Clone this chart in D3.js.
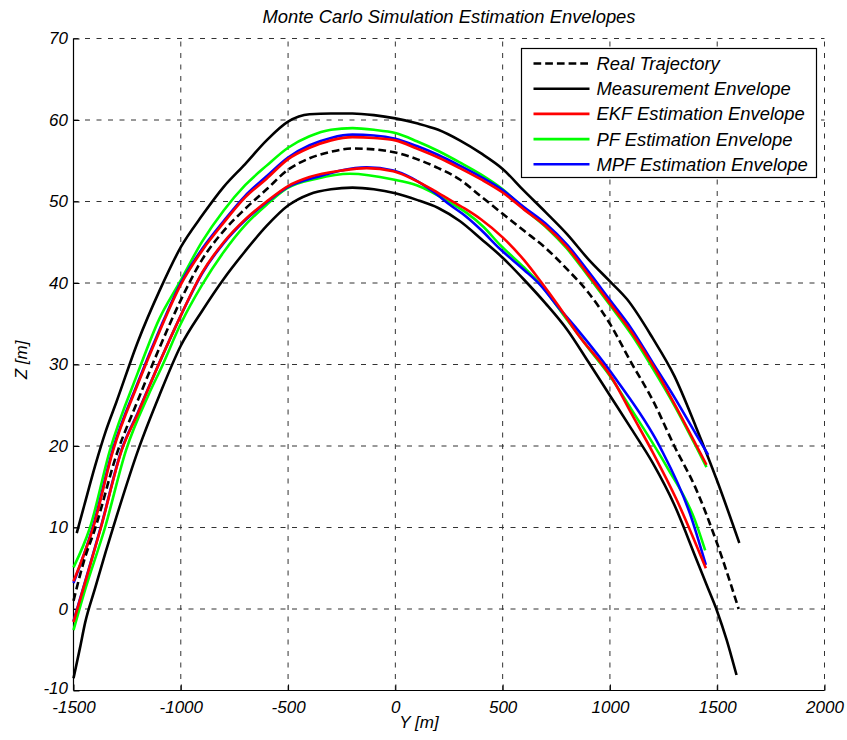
<!DOCTYPE html>
<html>
<head>
<meta charset="utf-8">
<script src="https://cdn.jsdelivr.net/npm/d3@7"></script>
<style>
  html, body { margin: 0; padding: 0; background: #fff; }
  svg { display: block; }
  text { font-family: "Liberation Sans", Arial, Helvetica, sans-serif; font-style: italic; fill: #000; }
</style>
</head>
<body>
<svg id="chart" width="847" height="740"></svg>
<script>
// Tick values
const xTicks = [-1500, -1000, -500, 0, 500, 1000, 1500, 2000];
const yTicks = [-10, 0, 10, 20, 30, 40, 50, 60, 70];

// Series as [Y position, Z altitude] pairs
const realTrajectory = [[-1500,1.0],[-1450,6.0],[-1400,9.8],[-1300,18.9],[-1200,25.6],[-1100,32.0],[-1000,37.9],[-900,42.9],[-800,46.4],[-700,49.1],[-600,51.5],[-500,53.9],[-400,55.3],[-300,56.1],[-200,56.5],[-100,56.4],[0,56.0],[100,55.2],[200,54.1],[300,52.7],[400,50.6],[500,48.5],[600,46.4],[700,44.3],[800,41.7],[900,38.8],[1000,35.0],[1100,30.2],[1200,25.6],[1300,20.0],[1400,14.8],[1500,8.0],[1600,0.0]];

const measurementUpper = [[-1485,9.3],[-1450,12.7],[-1400,17.5],[-1350,21.8],[-1300,25.4],[-1200,32.8],[-1100,39.0],[-1000,44.4],[-900,48.3],[-800,51.8],[-700,54.6],[-600,57.5],[-500,59.8],[-400,60.7],[-300,60.8],[-200,60.8],[-100,60.6],[0,60.2],[100,59.6],[200,58.8],[300,57.5],[400,55.9],[500,54.0],[600,51.3],[700,48.7],[800,46.0],[900,42.9],[1000,40.2],[1080,38.0],[1200,33.2],[1300,28.6],[1400,22.4],[1500,15.7],[1603,8.1]];
const measurementLower = [[-1500,-8.5],[-1470,-4.8],[-1446,-1.7],[-1400,2.5],[-1350,7.0],[-1300,11.3],[-1200,19.4],[-1100,26.2],[-1000,32.3],[-900,36.6],[-800,40.5],[-700,43.9],[-600,47.0],[-500,49.5],[-400,50.9],[-300,51.5],[-200,51.7],[-100,51.5],[0,51.0],[100,50.2],[200,49.2],[300,47.6],[400,45.4],[500,43.1],[600,40.4],[700,37.5],[800,34.3],[900,30.3],[1000,26.2],[1100,22.1],[1200,17.9],[1300,12.8],[1400,6.3],[1450,3.0],[1500,-0.3],[1544,-3.8],[1567,-5.9],[1590,-8.1]];

const ekfUpper = [[-1500,3.4],[-1408,10.0],[-1315,19.5],[-1200,27.6],[-1100,34.0],[-1000,39.8],[-900,44.0],[-800,47.4],[-700,50.5],[-600,52.8],[-500,55.2],[-400,56.6],[-300,57.5],[-200,57.9],[-100,57.8],[0,57.5],[100,56.5],[200,55.4],[300,54.1],[400,52.7],[500,51.1],[600,49.0],[700,47.0],[800,44.4],[900,41.0],[1000,37.5],[1100,34.0],[1200,29.9],[1300,25.2],[1400,20.2],[1450,17.7]];
const ekfLower = [[-1500,-1.6],[-1450,2.9],[-1372,10.0],[-1275,19.5],[-1200,24.0],[-1100,30.2],[-1000,36.0],[-900,41.3],[-800,45.0],[-700,47.8],[-600,50.0],[-500,51.9],[-400,53.0],[-250,53.8],[-134,54.1],[-10,53.7],[100,52.5],[177,51.4],[254,50.2],[332,49.0],[400,47.8],[500,45.6],[600,42.8],[674,40.3],[760,37.2],[845,33.9],[1015,28.1],[1100,24.0],[1202,19.1],[1311,13.4],[1447,5.0]];

const pfUpper = [[-1500,5.1],[-1423,10.0],[-1330,19.5],[-1200,29.0],[-1100,35.6],[-1007,40.0],[-900,45.1],[-800,48.9],[-700,52.0],[-600,54.4],[-500,56.6],[-400,58.0],[-300,58.8],[-200,59.0],[-100,58.8],[0,58.4],[100,57.4],[200,56.2],[300,54.8],[400,53.3],[500,51.5],[600,49.1],[700,46.9],[800,44.2],[900,40.8],[1000,37.3],[1100,33.7],[1200,29.5],[1300,25.0],[1400,20.0],[1450,17.4]];
const pfLower = [[-1500,-2.6],[-1450,2.0],[-1353,10.0],[-1255,19.5],[-1150,26.3],[-1089,29.7],[-1000,35.0],[-900,39.8],[-800,43.8],[-700,47.1],[-600,49.6],[-506,51.6],[-367,52.8],[-212,53.4],[-10,52.7],[99,52.0],[254,49.9],[332,48.6],[410,46.9],[487,44.7],[600,41.9],[674,39.9],[800,35.5],[900,32.0],[1000,28.6],[1100,24.5],[1264,17.5],[1396,10.9],[1444,7.2]];

const mpfUpper = [[-1500,3.2],[-1408,10.2],[-1315,19.7],[-1200,27.8],[-1100,34.2],[-1000,40.0],[-900,44.2],[-800,47.6],[-700,50.7],[-600,53.1],[-500,55.4],[-400,56.9],[-300,57.8],[-200,58.2],[-100,58.1],[0,57.7],[100,56.8],[200,55.7],[300,54.4],[400,53.0],[500,51.4],[600,49.3],[700,47.3],[800,44.7],[900,41.4],[1000,37.9],[1100,34.4],[1200,30.2],[1300,26.0],[1400,21.5],[1458,18.9]];
const mpfLower = [[-1500,-1.5],[-1450,3.0],[-1372,10.1],[-1275,19.6],[-1200,24.1],[-1100,30.2],[-1000,36.0],[-900,41.2],[-800,44.9],[-700,47.7],[-600,49.9],[-500,51.8],[-367,53.0],[-134,54.2],[-10,53.8],[177,51.2],[254,49.6],[332,48.1],[400,46.5],[487,44.2],[600,41.6],[674,39.8],[760,37.0],[845,34.4],[1031,28.1],[1233,19.9],[1373,11.7],[1447,5.4]];

// Legend entries
const legendLabels = ["Real Trajectory", "Measurement Envelope", "EKF Estimation Envelope", "PF Estimation Envelope", "MPF Estimation Envelope"];
const legendColors = ["#000000", "#000000", "#ff0000", "#00ff00", "#0000ff"];
const legendDashed = [true, false, false, false, false];

const svg = d3.select("#chart");
const plot = { left: 73.5, right: 824.5, top: 38.5, bottom: 690.5 };

const x = d3.scaleLinear().domain([-1500, 2000]).range([plot.left, plot.right]);
const y = d3.scaleLinear().domain([-10, 70]).range([plot.bottom, plot.top]);

// Dashed grid
const grid = svg.append("g").attr("stroke", "#333").attr("stroke-width", 1)
  .attr("stroke-dasharray", "5,6.5").attr("fill", "none");
grid.selectAll("line.gx").data(xTicks.slice(1)).join("line")
  .attr("x1", d => x(d)).attr("x2", d => x(d))
  .attr("y1", plot.bottom).attr("y2", plot.top);
grid.selectAll("line.gy").data(yTicks.slice(1)).join("line")
  .attr("x1", plot.left).attr("x2", plot.right)
  .attr("y1", d => y(d)).attr("y2", d => y(d));

// Axes with inward ticks, plain hyphen minus signs
const fmt = d => String(d);
const xAxis = d3.axisBottom(x).tickValues(xTicks).tickSize(-6).tickPadding(10.5).tickFormat(fmt);
const yAxis = d3.axisLeft(y).tickValues(yTicks).tickSize(-6).tickPadding(5.5).tickFormat(fmt);

const gx = svg.append("g").attr("transform", `translate(0,${plot.bottom})`).call(xAxis);
const gy = svg.append("g").attr("transform", `translate(${plot.left},0)`).call(yAxis);
[gx, gy].forEach(g => {
  g.select(".domain").attr("stroke", "#000").attr("stroke-width", 1.2);
  g.selectAll(".tick line").attr("stroke", "#000").attr("stroke-width", 1);
  g.selectAll(".tick text").attr("font-size", 17).attr("font-style", "italic")
    .attr("font-family", "'Liberation Sans', Arial, sans-serif").attr("fill", "#000");
});
// lowest Z label sits a little higher so it clears the corner Y label
gy.selectAll(".tick text").filter(d => d === -10).attr("y", -2.2);
gy.select(".domain").attr("d", `M0,${plot.bottom}V${plot.top}`);
gx.select(".domain").attr("d", `M${plot.left},0H${plot.right}`);

// Curves
const line = d3.line().x(d => x(d[0])).y(d => y(d[1])).curve(d3.curveMonotoneX);
const series = [
  { data: measurementUpper, color: "#000000", dash: null },
  { data: measurementLower, color: "#000000", dash: null },
  { data: pfUpper, color: "#00ff00", dash: null },
  { data: pfLower, color: "#00ff00", dash: null },
  { data: mpfUpper, color: "#0000ff", dash: null },
  { data: mpfLower, color: "#0000ff", dash: null },
  { data: ekfUpper, color: "#ff0000", dash: null },
  { data: ekfLower, color: "#ff0000", dash: null },
  { data: realTrajectory, color: "#000000", dash: "7.7,4" }
];
svg.append("g").selectAll("path").data(series).join("path")
  .attr("d", d => line(d.data))
  .attr("fill", "none")
  .attr("stroke", d => d.color)
  .attr("stroke-width", 2.6)
  .attr("stroke-linejoin", "round")
  .attr("stroke-dasharray", d => d.dash);

// Title and axis labels
svg.append("text").attr("x", (plot.left + plot.right) / 2).attr("y", 23)
  .attr("text-anchor", "middle").attr("font-size", 18.4).text("Monte Carlo Simulation Estimation Envelopes");
svg.append("text").attr("x", 419).attr("y", 728)
  .attr("text-anchor", "middle").attr("font-size", 17).text("Y [m]");
svg.append("text").attr("transform", `translate(27,360) rotate(-90)`)
  .attr("text-anchor", "middle").attr("font-size", 17).text("Z [m]");

// Legend
const lg = svg.append("g").attr("transform", "translate(521.5,48.5)");
lg.append("rect").attr("width", 295).attr("height", 129).attr("fill", "#fff").attr("stroke", "#000").attr("stroke-width", 1.2);
const rows = lg.selectAll("g.row").data(legendLabels).join("g")
  .attr("transform", (d, i) => `translate(0,${15 + i * 25.2})`);
rows.append("line").attr("x1", 12).attr("x2", 68).attr("y1", 0).attr("y2", 0)
  .attr("stroke", (d, i) => legendColors[i]).attr("stroke-width", 2.6)
  .attr("stroke-dasharray", (d, i) => legendDashed[i] ? "7.7,4" : null);
rows.append("text").attr("x", 75).attr("y", 6.5).attr("font-size", 18.4).text(d => d);
</script>
</body>
</html>
